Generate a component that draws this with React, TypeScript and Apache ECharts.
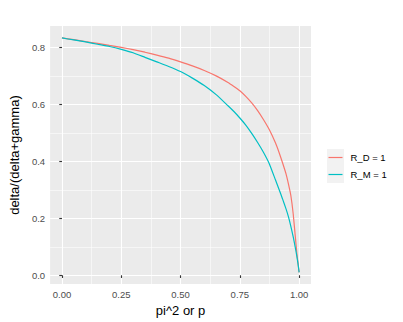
import React, { useEffect, useRef } from "react";
import * as echarts from "echarts";

const xValues = [0, 0.05, 0.1, 0.15, 0.2, 0.25, 0.3, 0.35, 0.4, 0.45, 0.5, 0.55, 0.6, 0.65, 0.7, 0.725, 0.75, 0.775, 0.8, 0.825, 0.85, 0.875, 0.9, 0.915, 0.93, 0.945, 0.955, 0.965, 0.975, 0.985, 0.99, 0.995, 1.0];
const rdValues = [0.833, 0.827, 0.820, 0.814, 0.807, 0.800, 0.792, 0.783, 0.773, 0.762, 0.749, 0.735, 0.719, 0.700, 0.677, 0.663, 0.648, 0.628, 0.605, 0.578, 0.546, 0.510, 0.465, 0.432, 0.395, 0.355, 0.320, 0.280, 0.215, 0.125, 0.080, 0.045, 0.01];
const rmValues = [0.833, 0.826, 0.819, 0.811, 0.803, 0.793, 0.781, 0.765, 0.749, 0.733, 0.715, 0.692, 0.666, 0.634, 0.595, 0.575, 0.552, 0.527, 0.498, 0.466, 0.431, 0.390, 0.335, 0.302, 0.268, 0.232, 0.205, 0.172, 0.135, 0.092, 0.068, 0.042, 0.01];
const seriesNames = ["R_D = 1", "R_M = 1"];
const xMajorTicks = [0, 0.25, 0.5, 0.75, 1];
const xMinorTicks = [0.125, 0.375, 0.625, 0.875];
const yMajorTicks = [0, 0.2, 0.4, 0.6, 0.8];
const yMinorTicks = [0.1, 0.3, 0.5, 0.7];

const FONT = "Liberation Sans";

export default function App() {
  const ref = useRef<HTMLDivElement>(null);
  useEffect(() => {
    if (!ref.current) return;
    const chart = echarts.init(ref.current, undefined, { renderer: "svg" });
    const xMin = -0.05, xMax = 1.05, yMin = -0.031, yMax = 0.875;
    const majorSplit = { show: true, lineStyle: { color: "#FFFFFF", width: 1.1 } };
    const minorSplit = { show: true, lineStyle: { color: "#FFFFFF", width: 0.55 } };
    const label = { color: "#4D4D4D", fontSize: 9.5, fontFamily: FONT };
    const toPairs = (ys: number[]) => xValues.map((x, i) => [x, ys[i]]);
    chart.setOption({
      animation: false,
      backgroundColor: "#FFFFFF",
      grid: {
        left: 40, right: 92, top: 26, bottom: 36,
        show: true, backgroundColor: "#EBEBEB", borderWidth: 0,
      },
      graphic: [
        { type: "rect", left: 327, top: 149, shape: { width: 17, height: 34 }, style: { fill: "#F2F2F2" }, z: 0 },
      ],
      legend: {
        orient: "vertical",
        left: 328.5,
        top: 149,
        padding: 0,
        itemGap: 0,
        itemWidth: 14,
        itemHeight: 1.2,
        icon: "rect",
        data: seriesNames,
        textStyle: { color: "#000000", fontSize: 9.5, fontFamily: FONT, lineHeight: 17, padding: [0, 0, 0, 3] },
      },
      xAxis: [
        {
          type: "value", min: xMin, max: xMax,
          name: "pi^2 or p", nameLocation: "middle", nameGap: 17,
          nameTextStyle: { color: "#000000", fontSize: 13, fontFamily: FONT },
          axisLine: { show: false },
          axisTick: { show: true, customValues: xMajorTicks, length: 2.7, lineStyle: { color: "#333333", width: 1.1 } },
          axisLabel: { customValues: xMajorTicks, margin: 5, ...label, formatter: (v: number) => v.toFixed(2) },
          splitLine: majorSplit,
          z: 2,
        },
        {
          type: "value", min: xMin, max: xMax, position: "bottom",
          axisLine: { show: false },
          axisTick: { show: false, customValues: xMinorTicks },
          axisLabel: { show: false, customValues: xMinorTicks },
          splitLine: minorSplit,
        },
      ],
      yAxis: [
        {
          type: "value", min: yMin, max: yMax,
          name: "delta/(delta+gamma)", nameLocation: "middle", nameGap: 22, nameRotate: 90,
          nameTextStyle: { color: "#000000", fontSize: 13, fontFamily: FONT },
          axisLine: { show: false },
          axisTick: { show: true, customValues: yMajorTicks, length: 2.7, lineStyle: { color: "#333333", width: 1.1 } },
          axisLabel: { customValues: yMajorTicks, margin: 5, ...label, formatter: (v: number) => v.toFixed(1) },
          splitLine: majorSplit,
          z: 2,
        },
        {
          type: "value", min: yMin, max: yMax, position: "left",
          axisLine: { show: false },
          axisTick: { show: false, customValues: yMinorTicks },
          axisLabel: { show: false, customValues: yMinorTicks },
          splitLine: minorSplit,
        },
      ],
      series: [
        {
          name: seriesNames[0], type: "line", data: toPairs(rdValues), xAxisIndex: 0, yAxisIndex: 0,
          showSymbol: false, symbol: "none", smooth: 0.15,
          lineStyle: { color: "#F8766D", width: 1.2 }, itemStyle: { color: "#F8766D" }, z: 5,
        },
        {
          name: seriesNames[1], type: "line", data: toPairs(rmValues), xAxisIndex: 0, yAxisIndex: 0,
          showSymbol: false, symbol: "none", smooth: 0.15,
          lineStyle: { color: "#00BFC4", width: 1.2 }, itemStyle: { color: "#00BFC4" }, z: 5,
        },
      ],
    });
    return () => chart.dispose();
  }, []);
  return <div ref={ref} style={{ position: "fixed", left: 0, top: 0, width: 403, height: 322 }} />;
}
